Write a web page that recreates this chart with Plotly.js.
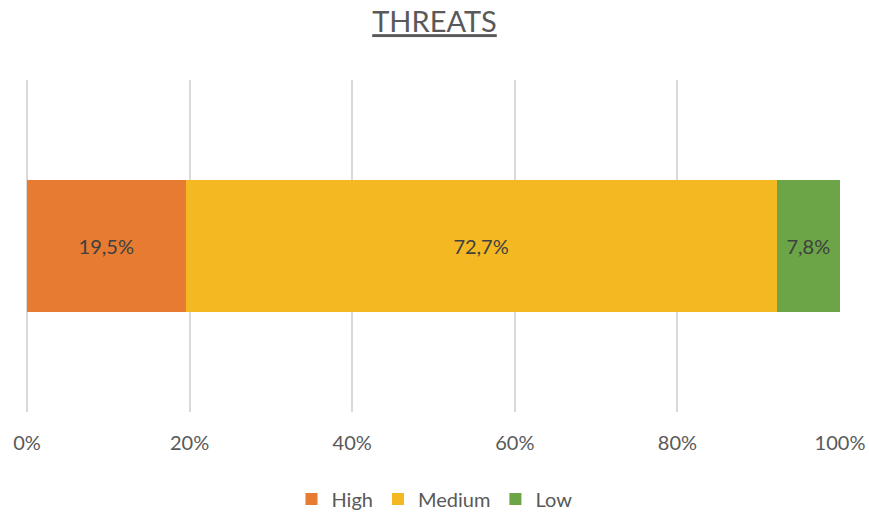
<!DOCTYPE html>
<html>
<head>
<meta charset="utf-8">
<script src="https://cdn.plot.ly/plotly-3.0.1.min.js"></script>
<style>
  html, body { margin: 0; padding: 0; background: #ffffff; }
  #chart { width: 869px; height: 516px; }
</style>
</head>
<body>
<div id="chart"></div>
<script>
// Share of threats by severity level (percent)
const category = ['Threats'];
const seriesNames = ['High', 'Medium', 'Low'];
const seriesValues = [19.5, 72.7, 7.8];
const seriesColors = ['#E67B31', '#F4B922', '#6BA547'];
const tickValues = [0, 20, 40, 60, 80, 100];

const FONT = 'Lato, "Open Sans", sans-serif';

// Labels use a decimal comma, e.g. 19,5%
const fmt = v => v.toFixed(1).replace('.', ',') + '%';

const traces = seriesNames.map((name, i) => ({
  type: 'bar',
  orientation: 'h',
  name: name,
  y: category,
  x: [seriesValues[i]],
  text: [fmt(seriesValues[i])],
  textposition: 'inside',
  insidetextanchor: 'middle',
  textangle: 0,
  textfont: { family: FONT, size: 20, color: '#404040' },
  marker: { color: seriesColors[i], line: { width: 0 } },
  hoverinfo: 'name+text'
}));

const layout = {
  width: 869,
  height: 516,
  paper_bgcolor: '#ffffff',
  plot_bgcolor: '#ffffff',
  margin: { l: 27, r: 29, t: 80, b: 104 },
  barmode: 'stack',
  bargap: 0.6,
  font: { family: FONT, color: '#595959' },
  title: {
    text: '<span style="text-decoration:underline">THREATS</span>',
    font: { family: FONT, size: 29, color: '#595959' },
    x: 0.5,
    xanchor: 'center',
    y: 1 - 22 / 516,
    yanchor: 'middle'
  },
  xaxis: {
    range: [0, 100],
    tickvals: tickValues,
    ticktext: tickValues.map(v => v + '%'),
    showgrid: true,
    gridcolor: '#D9D9D9',
    gridwidth: 2,
    zeroline: true,
    zerolinecolor: '#D9D9D9',
    zerolinewidth: 2,
    showline: false,
    ticks: '',
    ticklabelstandoff: 17,
    tickfont: { family: FONT, size: 20, color: '#595959' },
    fixedrange: true
  },
  yaxis: {
    showticklabels: false,
    showgrid: false,
    zeroline: false,
    showline: false,
    ticks: '',
    fixedrange: true
  },
  showlegend: true,
  legend: {
    orientation: 'h',
    xref: 'container',
    yref: 'container',
    x: 0.5,
    xanchor: 'center',
    y: (516 - 499) / 516,
    yanchor: 'middle',
    traceorder: 'normal',
    font: { family: FONT, size: 20, color: '#595959' },
    itemwidth: 30
  }
};

Plotly.newPlot('chart', traces, layout, { displayModeBar: false, staticPlot: true });
</script>
</body>
</html>
